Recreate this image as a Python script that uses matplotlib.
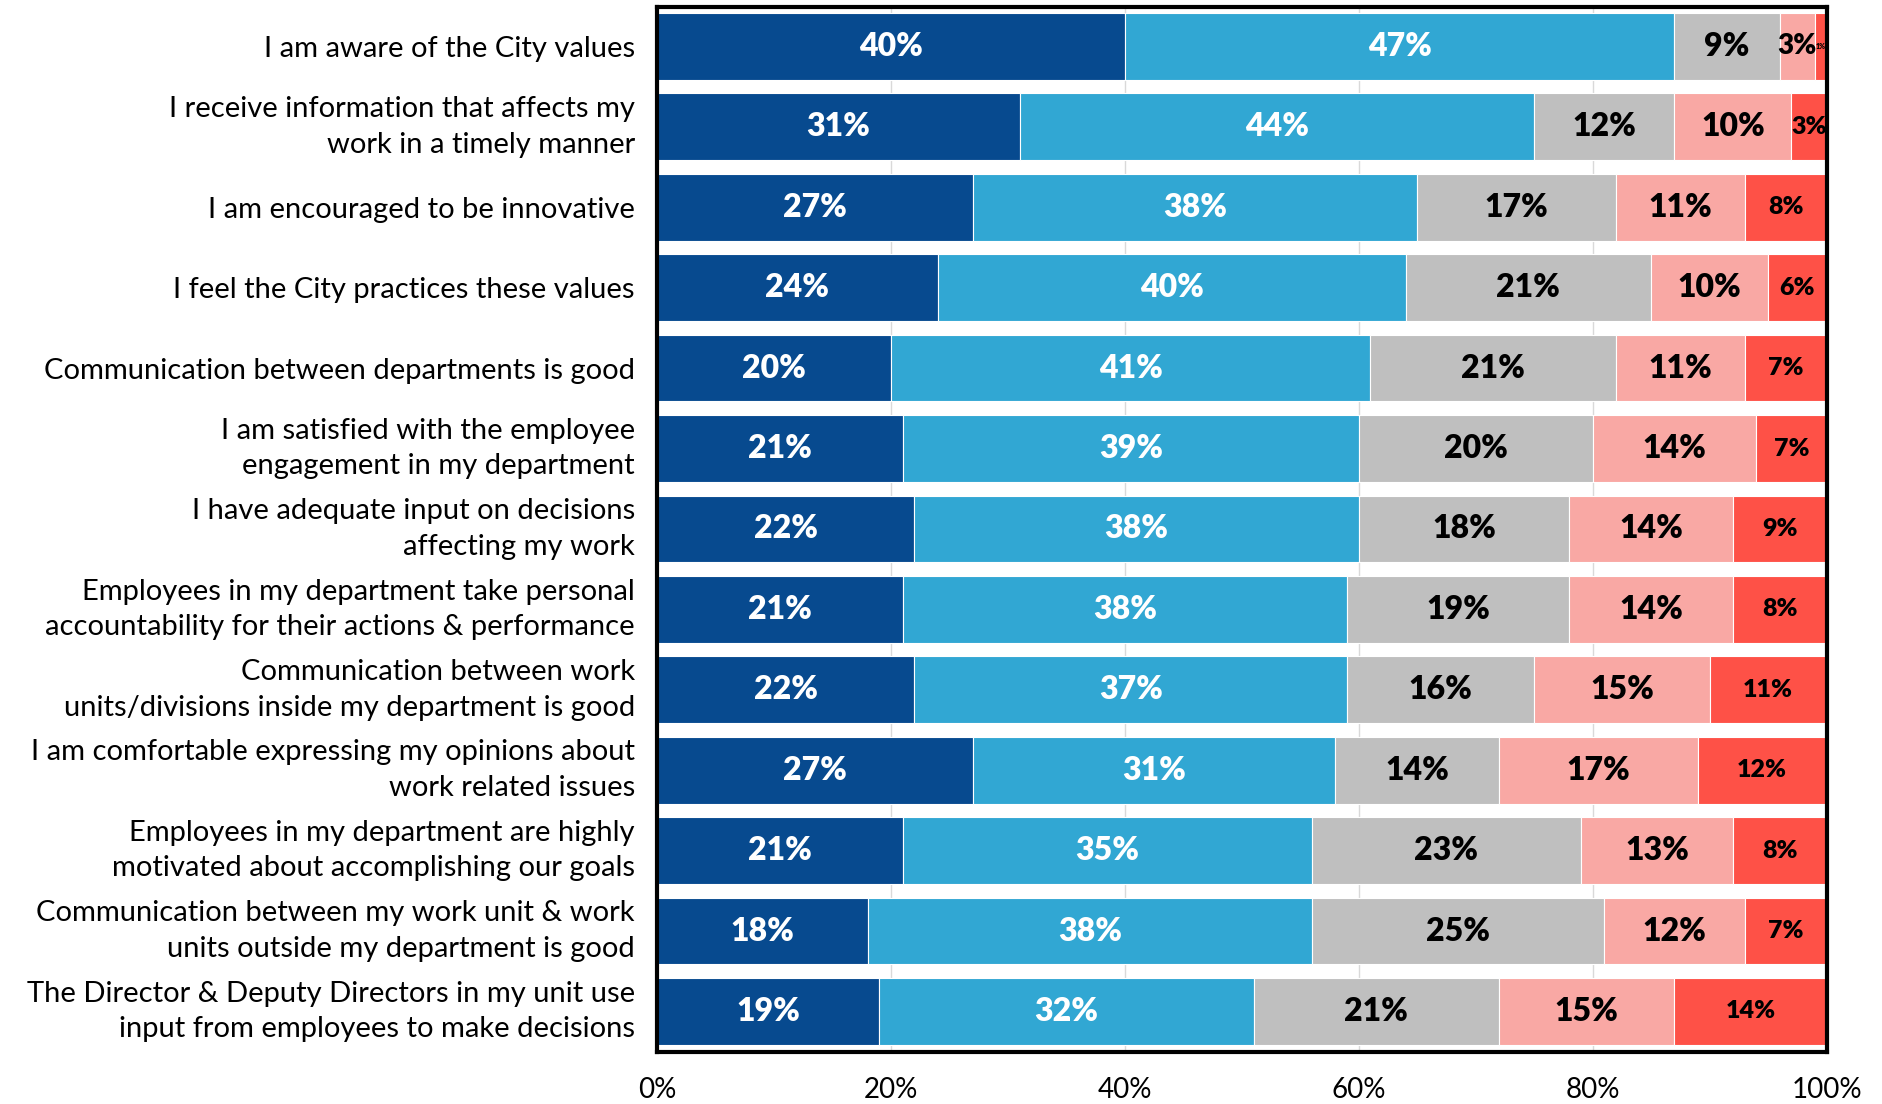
import matplotlib
matplotlib.use('Agg')
import matplotlib.pyplot as plt
import numpy as np

plt.rcParams['font.family'] = ['Lato', 'DejaVu Sans']

# Perguntas da pesquisa (de cima para baixo)
perguntas = [
    'I am aware of the City values',
    'I receive information that affects my\nwork in a timely manner',
    'I am encouraged to be innovative',
    'I feel the City practices these values',
    'Communication between departments is good',
    'I am satisfied with the employee\nengagement in my department',
    'I have adequate input on decisions\naffecting my work',
    'Employees in my department take personal\naccountability for their actions & performance',
    'Communication between work\nunits/divisions inside my department is good',
    'I am comfortable expressing my opinions about\nwork related issues',
    'Employees in my department are highly\nmotivated about accomplishing our goals',
    'Communication between my work unit & work\nunits outside my department is good',
    'The Director & Deputy Directors in my unit use\ninput from employees to make decisions',
]

# Percentuais de cada faixa de resposta
concordo_total = [40, 31, 27, 24, 20, 21, 22, 21, 22, 27, 21, 18, 19]
concordo = [47, 44, 38, 40, 41, 39, 38, 38, 37, 31, 35, 38, 32]
neutro = [9, 12, 17, 21, 21, 20, 18, 19, 16, 14, 23, 25, 21]
discordo = [3, 10, 11, 10, 11, 14, 14, 14, 15, 17, 13, 12, 15]
discordo_total = [1, 3, 8, 6, 7, 7, 9, 8, 11, 12, 8, 7, 14]

series = [concordo_total, concordo, neutro, discordo, discordo_total]
cores = ['#074A8F', '#31A7D3', '#BFBFBF', '#F9A8A4', '#FE5147']
cor_texto = ['white', 'white', 'black', 'black', 'black']

fig = plt.figure(figsize=(18.83, 11.04), dpi=100)
ax = fig.add_axes([0.349, 0.047, 0.621, 0.9467])

y = np.arange(len(perguntas))
esquerda = np.zeros(len(perguntas))

for k in range(len(series)):
    valores = np.array(series[k], dtype=float)
    ax.barh(y, valores, left=esquerda, height=0.83, color=cores[k],
            edgecolor='white', linewidth=0.8, zorder=2)
    # Rótulos no centro da parte visível de cada segmento
    for i in range(len(valores)):
        ini = esquerda[i]
        fim = min(ini + valores[i], 100)
        tam = 23
        if valores[i] < 5:
            tam = 20
        if k == 4:
            tam = 18
            if valores[i] < 2:
                tam = 5
        ax.text((ini + fim) / 2, y[i], '{}%'.format(int(valores[i])),
                ha='center', va='center', color=cor_texto[k],
                fontsize=tam, fontweight='heavy', zorder=3)
    esquerda = esquerda + valores

# Eixos
ax.set_xlim(0, 100)
ax.set_ylim(len(perguntas) - 0.495, -0.49)
ax.set_yticks(y)
ax.set_yticklabels(perguntas, fontsize=21, linespacing=1.45)
# Rótulos de duas linhas centralizados na barra
for rotulo in ax.get_yticklabels():
    if '\n' in rotulo.get_text():
        rotulo.set_va('center')
ax.set_xticks([0, 20, 40, 60, 80, 100])
ax.set_xticklabels(['0%', '20%', '40%', '60%', '80%', '100%'], fontsize=20)
ax.tick_params(axis='y', length=0, pad=16)
ax.tick_params(axis='x', length=0, pad=18)
ax.grid(axis='x', color='#D9D9D9', linewidth=1, zorder=0)

for lado in ax.spines.values():
    lado.set_linewidth(3)
    lado.set_color('black')

fig.savefig('out.png', dpi=100)
